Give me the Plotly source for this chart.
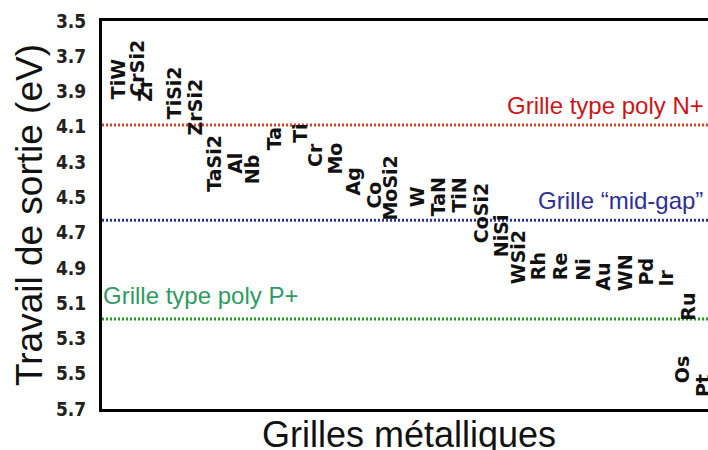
import plotly.graph_objects as go

# ---- data ----
materials = ["TiW", "CrSi2", "Zr", "TiSi2", "ZrSi2", "TaSi2", "Al", "Nb", "Ta", "Ti",
             "Cr", "Mo", "Ag", "Co", "MoSi2", "W", "TaN", "TiN", "CoSi2", "NiSi",
             "WSi2", "Rh", "Re", "Ni", "Au", "WN", "Pd", "Ir", "Ru", "Os", "Pt"]
positions = [0.8, 1.75, 2.15, 3.6, 4.65, 5.6, 6.65, 7.5, 8.6, 9.9,
             10.65, 11.65, 12.55, 13.6, 14.4, 15.75, 16.8, 17.85, 18.95, 19.95,
             20.8, 21.8, 22.9, 24.05, 25.05, 26.15, 27.2, 28.2, 29.3, 29.0, 30.05]
work_function = [3.83, 3.77, 3.89, 3.91, 3.99, 4.31, 4.31, 4.34, 4.17, 4.14,
                 4.26, 4.28, 4.41, 4.49, 4.45, 4.50, 4.50, 4.49, 4.59, 4.72,
                 4.84, 4.89, 4.89, 4.91, 4.95, 4.93, 4.92, 4.96, 5.12, 5.48, 5.57]

ref_names = ["Grille type poly N+", "Grille \u201cmid-gap\u201d", "Grille type poly P+"]
ref_levels = [4.09, 4.63, 5.19]
ref_line_colors = ["#d8452f", "#30309e", "#1f9a2a"]
ref_text_colors = ["#cc1418", "#2e2e98", "#2f9a62"]

y_ticks = [3.5, 3.7, 3.9, 4.1, 4.3, 4.5, 4.7, 4.9, 5.1, 5.3, 5.5, 5.7]
x_range = [0, 30.3]
x_title = "Grilles m\u00e9talliques"
y_title = "Travail de sortie (eV)"

fig = go.Figure()

for name, lvl, col in zip(ref_names, ref_levels, ref_line_colors):
    fig.add_trace(go.Scatter(x=x_range, y=[lvl, lvl], mode="lines",
                             line=dict(color=col, width=3, dash="2px,2px"),
                             name=name, showlegend=False, hoverinfo="skip"))

annotations = []
for m, xp, wf in zip(materials, positions, work_function):
    annotations.append(dict(x=xp, y=wf, xref="x", yref="y", text=m, showarrow=False,
                            textangle=-90, xanchor="center", yanchor="middle",
                            font=dict(family="DejaVu Sans, sans-serif", size=19,
                                      color="#111111", weight="bold")))

# reference labels
annotations.append(dict(x=1.0, y=ref_levels[0], xref="paper", yref="y", text=ref_names[0],
                        showarrow=False, xanchor="right", yanchor="bottom", yshift=4,
                        xshift=-2,
                        font=dict(family="Liberation Sans, Arial, sans-serif", size=24,
                                  color=ref_text_colors[0])))
annotations.append(dict(x=(538 - 102) / 606, y=ref_levels[1], xref="paper", yref="y",
                        text=ref_names[1], showarrow=False, xanchor="left", yanchor="bottom",
                        yshift=4, xshift=-2,
                        font=dict(family="Liberation Sans, Arial, sans-serif", size=24,
                                  color=ref_text_colors[1])))
annotations.append(dict(x=0.0, y=ref_levels[2], xref="paper", yref="y", text=ref_names[2],
                        showarrow=False, xanchor="left", yanchor="bottom", yshift=8,
                        xshift=-1,
                        font=dict(family="Liberation Sans, Arial, sans-serif", size=24,
                                  color=ref_text_colors[2])))
# x axis title
annotations.append(dict(x=0.5, y=0, xref="paper", yref="paper", text=x_title,
                        showarrow=False, xanchor="center", yanchor="top", yshift=-3,
                        xshift=4,
                        font=dict(family="Liberation Sans, Arial, sans-serif", size=36,
                                  color="#111111")))

fig.update_layout(
    width=708, height=450,
    margin=dict(l=102, r=0, t=21, b=41),
    paper_bgcolor="white", plot_bgcolor="white",
    showlegend=False,
    annotations=annotations,
    xaxis=dict(range=x_range, showgrid=False, zeroline=False, showticklabels=False,
               ticks="", showline=True, linecolor="black", linewidth=3, mirror=True),
    yaxis=dict(range=[5.7, 3.5], showgrid=False, zeroline=False,
               tickvals=y_ticks, ticktext=[f"{v:.1f}" for v in y_ticks],
               ticks="", ticklabelstandoff=9,
               tickfont=dict(family="Liberation Sans Narrow, Arial Narrow, DejaVu Sans Condensed, sans-serif",
                             size=19, color="#222222", weight="bold"),
               showline=True, linecolor="black", linewidth=3, mirror=False,
               title=dict(text=y_title, standoff=2,
                          font=dict(family="Liberation Sans, Arial, sans-serif", size=37,
                                    color="#111111"))),
)

fig.write_html("out.html", config={"displayModeBar": False},
               post_script="document.body.style.margin='0';")
